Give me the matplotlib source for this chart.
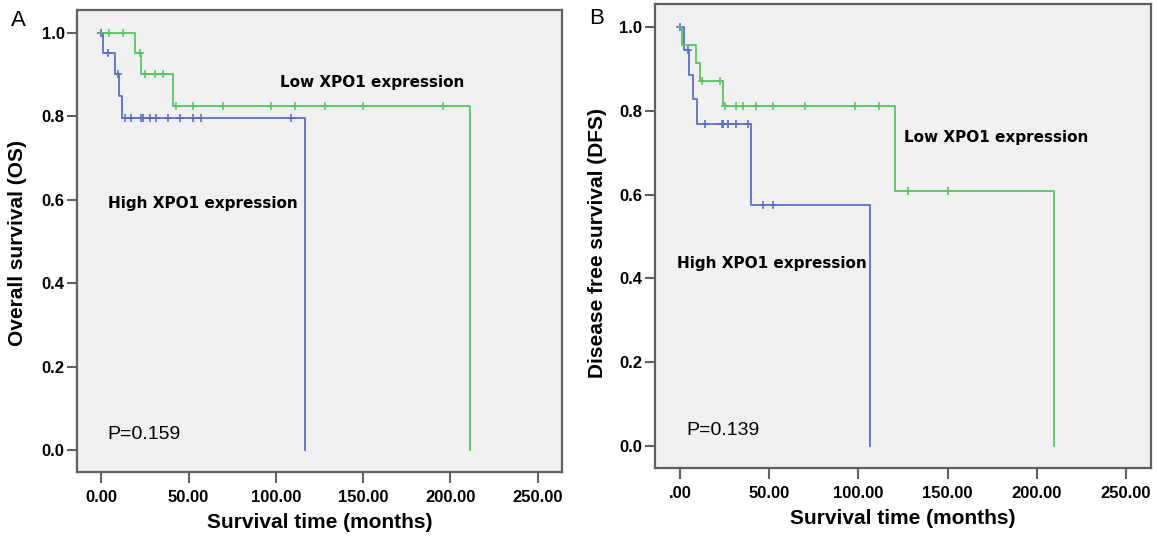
"""Kaplan-Meier curves for XPO1 expression (OS and DFS)."""

import matplotlib
import numpy as np

matplotlib.use("Agg")
from matplotlib import pyplot as plt

# Panel A: overall survival
os_high_times = [0.0, 1.0, 7.6, 10.0, 12.0, 116.5]
os_high_surv = [1.0, 0.952, 0.902, 0.849, 0.796, 0.0]
os_high_censor = [0.0, 3.8, 9.5, 13.4, 17.2, 22.9, 23.9, 27.7, 31.5, 38.2,
                  44.9, 52.5, 57.3, 108.9]

os_low_times = [0.0, 19.1, 22.9, 41.0, 211.5]
os_low_surv = [1.0, 0.952, 0.901, 0.825, 0.0]
os_low_censor = [4.2, 12.4, 21.9, 24.8, 30.5, 35.3, 43.0, 52.5, 69.7, 97.4,
                 110.8, 128.0, 150.0, 195.8]

# Panel B: disease free survival
dfs_high_times = [0.0, 2.2, 5.2, 7.5, 9.3, 40.0, 106.3]
dfs_high_surv = [1.0, 0.945, 0.886, 0.828, 0.768, 0.576, 0.0]
dfs_high_censor = [0.0, 4.3, 14.0, 23.3, 24.2, 27.0, 31.7, 38.2, 46.4, 52.0]

dfs_low_times = [0.0, 1.0, 9.2, 11.0, 24.3, 120.5, 209.7]
dfs_low_surv = [1.0, 0.957, 0.913, 0.870, 0.812, 0.609, 0.0]
dfs_low_censor = [12.1, 22.4, 25.2, 31.3, 35.4, 42.9, 52.2, 69.9, 97.9,
                  111.5, 127.7, 150.0]

x_ticks = [0, 50, 100, 150, 200, 250]
x_labels_a = ["0.00", "50.00", "100.00", "150.00", "200.00", "250.00"]
x_labels_b = [".00", "50.00", "100.00", "150.00", "200.00", "250.00"]
y_ticks = [0.0, 0.2, 0.4, 0.6, 0.8, 1.0]
y_labels = ["0.0", "0.2", "0.4", "0.6", "0.8", "1.0"]

BLUE = "#5a6fc6"
GREEN = "#55c761"
FRAME = "#606060"
TICK_FONT = "Liberation Sans"
NOTE_FONT = "DejaVu Sans"


def _km(axis, times, surv, censor, color):
    axis.step(times, surv, where="post", color=color, linewidth=1.3)
    # censor marks sit on the curve at their time
    idx = np.searchsorted(times, censor, side="right") - 1
    axis.plot(censor, np.asarray(surv)[idx], linestyle="none", marker="+",
              markersize=6, markeredgewidth=1.2, color=color)


def _style(axis, x_labels):
    axis.set_facecolor("#f0f0f0")
    axis.set_xlim(-14, 264)
    axis.set_ylim(-0.053, 1.055)
    axis.set_xticks(x_ticks)
    axis.set_xticklabels(x_labels, fontfamily=TICK_FONT, fontweight="bold", fontsize=12)
    axis.set_yticks(y_ticks)
    axis.set_yticklabels(y_labels, fontfamily=TICK_FONT, fontweight="bold", fontsize=12)
    axis.tick_params(axis="x", length=8, width=1.5, color=FRAME, pad=5)
    axis.tick_params(axis="y", length=7, width=1.5, color=FRAME, pad=2)
    for spine in axis.spines.values():
        spine.set_color(FRAME)
        spine.set_linewidth(1.6)
    axis.set_xlabel("Survival time (months)", fontfamily=TICK_FONT,
                    fontweight="bold", fontsize=15, labelpad=6)


figure = plt.figure(figsize=(11.58, 5.39), dpi=100)
ax_a = figure.add_axes((0.0665, 0.1243, 0.4188, 0.8571))
ax_b = figure.add_axes((0.5656, 0.1317, 0.4283, 0.8609))

_km(ax_a, os_high_times, os_high_surv, os_high_censor, BLUE)
_km(ax_a, os_low_times, os_low_surv, os_low_censor, GREEN)
_style(ax_a, x_labels_a)
ax_a.text(155, 0.88, "Low XPO1 expression", ha="center", va="center",
          fontfamily=NOTE_FONT, fontweight="bold", fontsize=11)
ax_a.text(58, 0.59, "High XPO1 expression", ha="center", va="center",
          fontfamily=NOTE_FONT, fontweight="bold", fontsize=11)
ax_a.text(3.6, 0.036, "P=0.159", ha="left", va="center",
          fontfamily=TICK_FONT, fontsize=14)

_km(ax_b, dfs_high_times, dfs_high_surv, dfs_high_censor, BLUE)
_km(ax_b, dfs_low_times, dfs_low_surv, dfs_low_censor, GREEN)
_style(ax_b, x_labels_b)
ax_b.text(177, 0.737, "Low XPO1 expression", ha="center", va="center",
          fontfamily=NOTE_FONT, fontweight="bold", fontsize=11)
ax_b.text(51.5, 0.436, "High XPO1 expression", ha="center", va="center",
          fontfamily=NOTE_FONT, fontweight="bold", fontsize=11)
ax_b.text(3.4, 0.036, "P=0.139", ha="left", va="center",
          fontfamily=TICK_FONT, fontsize=14)

figure.text(18 / 1158, 1 - 243 / 539, "Overall survival (OS)", rotation=90,
            ha="center", va="center", fontfamily=TICK_FONT, fontweight="bold", fontsize=15)
figure.text(597 / 1158, 1 - 243 / 539, "Disease free survival (DFS)", rotation=90,
            ha="center", va="center", fontfamily=TICK_FONT, fontweight="bold", fontsize=15)
figure.text(18 / 1158, 1 - 20 / 539, "A", ha="center", va="center",
            fontfamily=TICK_FONT, fontsize=16)
figure.text(597 / 1158, 1 - 18 / 539, "B", ha="center", va="center",
            fontfamily=TICK_FONT, fontsize=16)

figure.savefig("out.png", dpi=100, facecolor="white")
plt.close(figure)
